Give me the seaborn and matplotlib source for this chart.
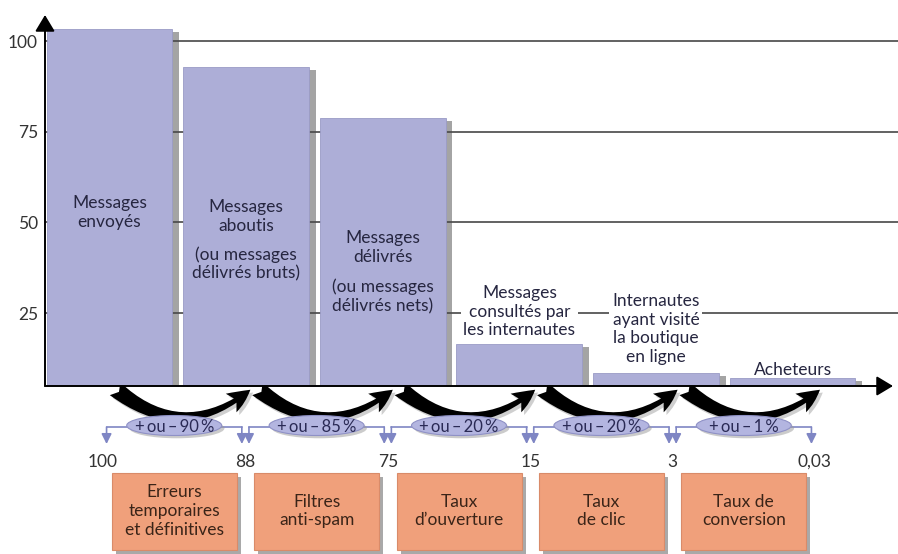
import matplotlib
matplotlib.use("Agg")
import matplotlib.pyplot as plt
import matplotlib.patheffects as pe
from matplotlib.patches import Ellipse, Rectangle, FancyArrowPatch
import seaborn as sns
import pandas as pd

# ---------------- data ----------------
categories = ["Messages envoyés", "Messages aboutis", "Messages délivrés",
              "Messages consultés", "Internautes visiteurs", "Acheteurs"]
bar_values = [103.3, 92.8, 78.8, 16.5, 8.5, 7.1]     # read on the y scale
y_ticks = [25, 50, 75, 100]
stage_numbers = ["100", "88", "75", "15", "3", "0,03"]
rate_labels = ["+\u2009ou\u2009–\u200990\u2009%", "+\u2009ou\u2009–\u200985\u2009%",
               "+\u2009ou\u2009–\u200920\u2009%", "+\u2009ou\u2009–\u200920\u2009%",
               "+\u2009ou\u2009–\u20091\u2009%"]
cause_labels = ["Erreurs\ntemporaires\net définitives", "Filtres\nanti-spam",
                "Taux\nd’ouverture", "Taux\nde clic", "Taux de\nconversion"]
bar_texts = [
    [("Messages\nenvoyés", 52.7)],
    [("Messages\naboutis", 51.7), ("(ou messages\ndélivrés bruts)", 38.5)],
    [("Messages\ndélivrés", 43.1), ("(ou messages\ndélivrés nets)", 29.6)],
    [("Messages\nconsultés par\nles internautes", 25.4)],
    [("Internautes\nayant visité\nla boutique\nen ligne", 20.6)],
    [("Acheteurs", 9.4)],
]

# ---------------- style ----------------
sns.set_style("white")
plt.rcParams["font.family"] = ["Lato", "DejaVu Sans"]

BAR = "#adaed7"
TXT = "#262640"
ORANGE = "#f0a07b"
BRACKET = "#7f86c4"

W, H = 898, 554
fig = plt.figure(figsize=(W / 100, H / 100), dpi=100)

# bottom annotation axes (pixel-like y units, stage index x units)
ax2 = fig.add_axes([0, 0, 1, 168 / H])
ax2.set_xlim(-103 / 142.4, (W - 103) / 142.4)
ax2.set_ylim(H, 386)
ax2.axis("off")
ax2.set_zorder(0)

# main bar axes
ax = fig.add_axes([45 / W, 168 / H, (W - 45) / W, 371 / H])
ax.set_zorder(1)
ax.patch.set_visible(False)

df = pd.DataFrame({"stage": categories, "value": bar_values})
sns.barplot(data=df, x="stage", y="value", order=categories, color=BAR,
            width=0.92, edgecolor="#9a9bc6", linewidth=0.6, saturation=1,
            ax=ax, zorder=2)
for p in ax.patches:
    p.set_path_effects([pe.SimplePatchShadow(offset=(5, -2), shadow_rgbFace="#4a4a4a", alpha=0.5),
                        pe.Normal()])

ax.set_xlim(-0.472, 5.772)
ax.set_ylim(4.88, 107.2)
ax.set_yticks(y_ticks)
ax.set_xticks([])
ax.set_xlabel("")
ax.set_ylabel("")
ax.tick_params(axis="y", length=0, pad=5, labelsize=12.5, labelcolor="#333333")
ax.yaxis.grid(True, color="#555555", lw=1.3)
ax.set_axisbelow(True)
for s in ax.spines.values():
    s.set_visible(False)

# axis arrows
ax.annotate("", xy=(0, 1), xycoords="axes fraction", xytext=(0, 0),
            arrowprops=dict(arrowstyle="-|>,head_length=0.5,head_width=0.3", color="black",
                            lw=1.4, mutation_scale=20, shrinkA=0, shrinkB=0), zorder=5)
ax.annotate("", xy=((893 - 45) / (W - 45), 0), xycoords="axes fraction", xytext=(0, 0),
            arrowprops=dict(arrowstyle="-|>,head_length=0.5,head_width=0.3", color="black",
                            lw=1.4, mutation_scale=20, shrinkA=0, shrinkB=0), zorder=5)

# bar texts
for i, items in enumerate(bar_texts):
    for txt, yv in items:
        kw = {}
        if i in (3, 4):
            kw["bbox"] = dict(fc="white", ec="none", pad=2)
        ax.text(i, yv, txt, ha="center", va="center", fontsize=12.5, color=TXT,
                linespacing=1.2, zorder=4, **kw)

# ---------------- bottom part ----------------
n = len(rate_labels)
for i in range(n):
    # curved black arrow between stages
    arr = FancyArrowPatch((i + 0.07, 387), (i + 1.05, 388),
                          connectionstyle="arc3,rad=0.42",
                          arrowstyle="fancy,head_length=1.2,head_width=1.1,tail_width=0.85",
                          mutation_scale=14, color="black", lw=0, zorder=3)
    arr.set_path_effects([pe.SimplePatchShadow(offset=(2, -2), shadow_rgbFace="#888", alpha=0.4),
                          pe.Normal()])
    ax2.add_patch(arr)

    # bracket
    xl, xr, xc = i + 0.025, i + 1 - 0.025, i + 0.5
    ax2.plot([xl, xr], [427, 427], color=BRACKET, lw=1.2, zorder=2)
    for xx in (xl, xr):
        ax2.annotate("", xy=(xx, 444), xytext=(xx, 427),
                     arrowprops=dict(arrowstyle="-|>,head_length=0.5,head_width=0.25",
                                     color=BRACKET, lw=1.2, mutation_scale=12,
                                     shrinkA=0, shrinkB=0), zorder=2)

    # ellipse with rate
    ell = Ellipse((xc, 425.5), width=95 / 142.4, height=20, fc="#b3b5e0", ec="#8f91c6",
                  lw=0.8, zorder=3)
    ell.set_path_effects([pe.SimplePatchShadow(offset=(2, -2), shadow_rgbFace="#999", alpha=0.5),
                          pe.Normal()])
    ax2.add_patch(ell)
    ax2.text(xc, 426.5, rate_labels[i], ha="center", va="center", fontsize=12,
             color="#2a2a55", zorder=4)

    # orange cause box
    bw = 125 / 142.4
    rect = Rectangle((xc - bw / 2, 473), bw, 77, fc=ORANGE, ec="#d98b69", lw=0.8, zorder=3)
    rect.set_path_effects([pe.SimplePatchShadow(offset=(3, -3), shadow_rgbFace="#555", alpha=0.5),
                           pe.Normal()])
    ax2.add_patch(rect)
    ax2.text(xc, 511, cause_labels[i], ha="center", va="center", fontsize=12.5,
             color="#3a2418", linespacing=1.2, zorder=4)

for k, lab in enumerate(stage_numbers):
    ax2.text(k, 462, lab, ha="center", va="center", fontsize=12.5, color="#333333")

fig.savefig("out.png", dpi=100)
